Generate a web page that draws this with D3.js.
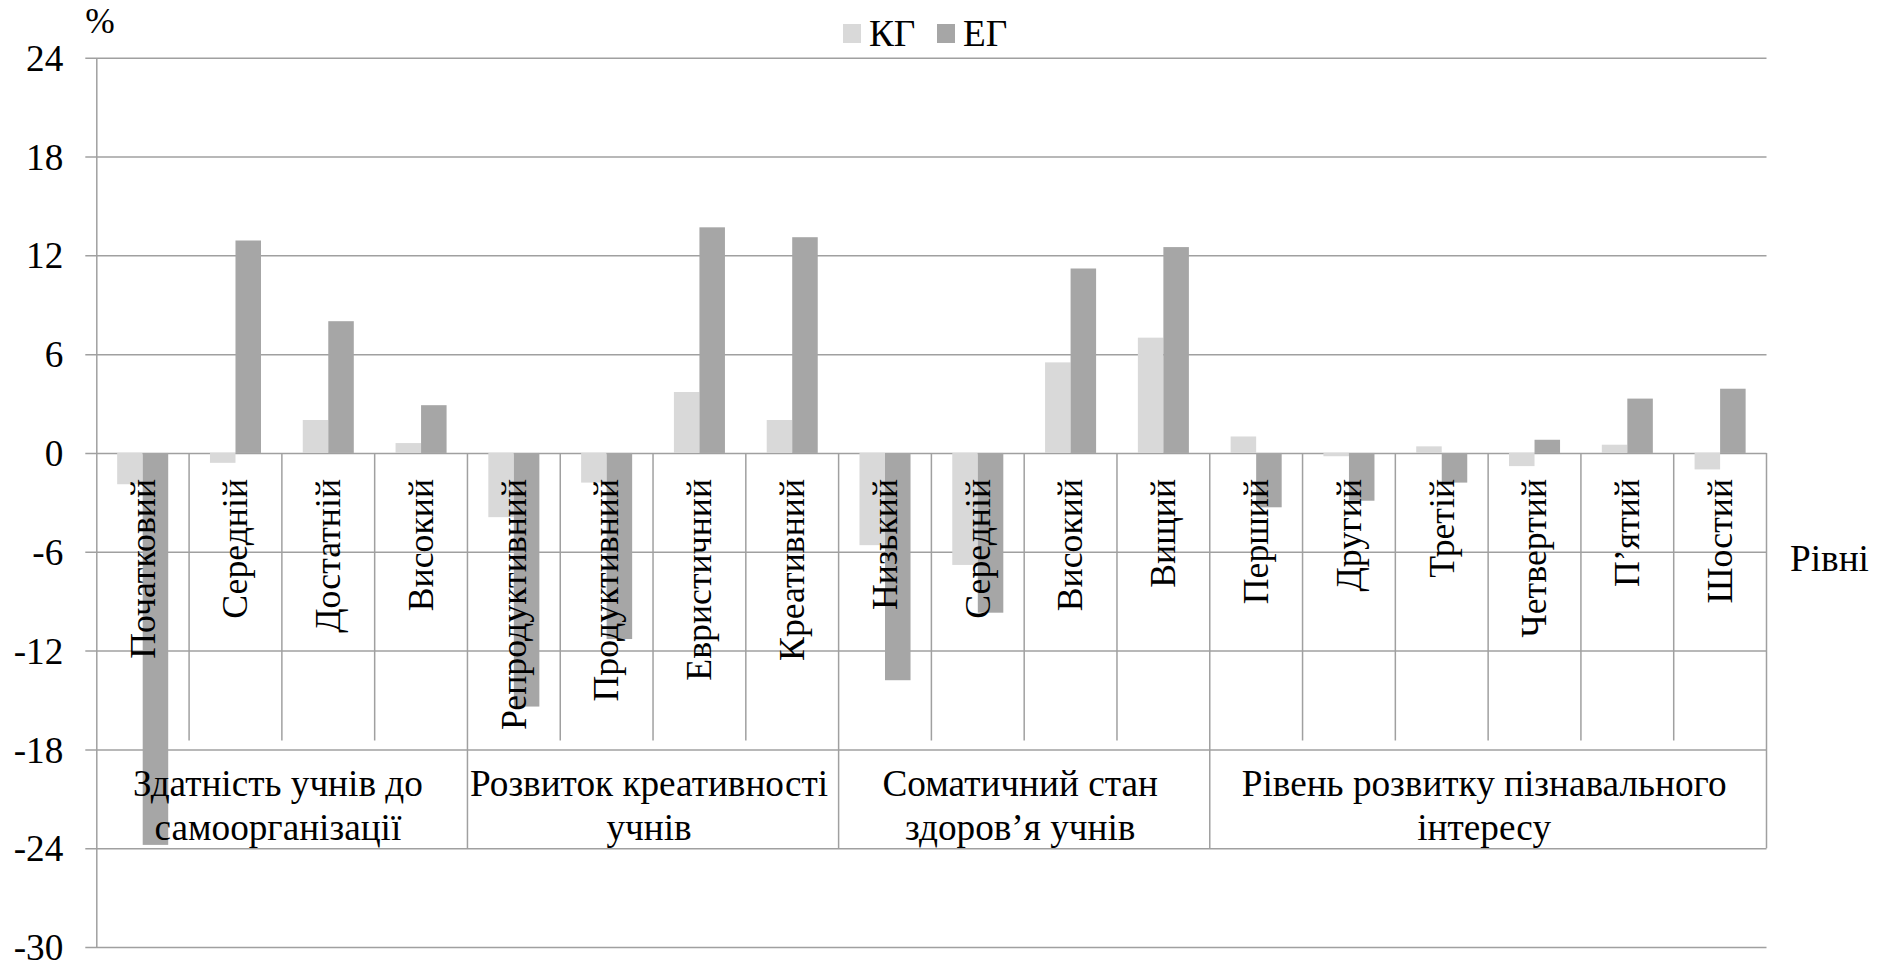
<!DOCTYPE html>
<html>
<head>
<meta charset="utf-8">
<script src="https://cdn.jsdelivr.net/npm/d3@7"></script>
<style>
  html, body { margin: 0; padding: 0; background: #fff; }
  svg { display: block; }
</style>
</head>
<body>
<svg id="chart" width="1888" height="963"></svg>
<script>
// ---- data ----
const categories = ['Початковий','Середній','Достатній','Високий',
  'Репродуктивний','Продуктивний','Евристичний','Креативний',
  'Низький','Середній','Високий','Вищий',
  'Перший','Другий','Третій','Четвертий','П’ятий','Шостий'];
const groupLabels = [
  ['Здатність учнів до','самоорганізації'],
  ['Розвиток креативності','учнів'],
  ['Соматичний стан','здоров’я учнів'],
  ['Рівень розвитку пізнавального','інтересу']
];
const groupSizes = [4, 4, 4, 6];
const seriesNames = ['КГ', 'ЕГ'];
const kgValues = [-1.9, -0.6, 2.0, 0.6, -3.9, -1.8, 3.7, 2.0, -5.6, -6.8, 5.5, 7.0, 1.0, -0.2, 0.4, -0.8, 0.5, -1.0];
const egValues = [-23.8, 12.9, 8.0, 2.9, -15.4, -11.3, 13.7, 13.1, -13.8, -9.7, 11.2, 12.5, -3.3, -2.9, -1.8, 0.8, 3.3, 3.9];
const yTicks = [24, 18, 12, 6, 0, -6, -12, -18, -24, -30];
const yUnit = '%';
const xUnit = 'Рівні';

// ---- font detection ----
const ctx = document.createElement('canvas').getContext('2d');
function fontAvailable(name) {
  const s = 'Здатність учнів до 0123 КГ';
  const res = [];
  for (const fb of ['monospace', 'sans-serif']) {
    ctx.font = `72px ${fb}`; const a = ctx.measureText(s).width;
    ctx.font = `72px "${name}", ${fb}`; const b = ctx.measureText(s).width;
    res.push(Math.abs(a - b) > 0.5);
  }
  return res[0] || res[1];
}
const candidates = ['Liberation Serif', 'Times New Roman', 'Tinos', 'Nimbus Roman', 'DejaVu Serif', 'Noto Serif'];
let family = 'serif';
for (const c of candidates) { if (fontAvailable(c)) { family = `"${c}", serif`; break; } }
ctx.font = `100px ${family}`;
const refW = ctx.measureText('Здатність учнів до').width;
const fs = Math.max(26, Math.min(40, 100 * 290 / refW));
console.log('font chosen:', family, 'size', fs);

// ---- layout ----
const colors = { 'КГ': '#d9d9d9', 'ЕГ': '#a6a6a6' };
const lineColor = '#a0a0a0';
const plotL = 96.3, plotR = 1766.5, plotT = 57.7, plotB = 947;
const svg = d3.select('#chart').attr('font-family', family);

const y = d3.scaleLinear().domain([-30, 24]).range([plotB, plotT]);
const x = d3.scaleBand().domain(d3.range(categories.length)).range([plotL, plotR]).padding(0);
const bw = x.bandwidth();
const x1 = d3.scaleBand().domain(seriesNames).range([bw * 0.225, bw * 0.775]).padding(0);

// gridlines + y tick labels via axis
const yAxis = d3.axisLeft(y).tickValues(yTicks).tickSizeInner(-(plotR - plotL)).tickSizeOuter(0).tickPadding(33)
  .tickFormat(d => String(d));
const gAxis = svg.append('g').attr('transform', `translate(${plotL},0)`).call(yAxis)
  .attr('font-family', family).attr('font-size', fs);
gAxis.select('.domain').attr('stroke', lineColor).attr('stroke-width', 1.5);
gAxis.selectAll('.tick line').attr('stroke', lineColor).attr('stroke-width', 1.5).attr('x1', -11);
gAxis.selectAll('.tick text').attr('fill', '#000').attr('dy', '0.34em');

// bars
const rows = categories.map((c, i) => ({ i, values: [
  { s: 'КГ', v: kgValues[i] }, { s: 'ЕГ', v: egValues[i] } ] }));
const gBars = svg.append('g');
gBars.selectAll('g').data(rows).join('g')
  .attr('transform', d => `translate(${x(d.i)},0)`)
  .selectAll('rect').data(d => d.values).join('rect')
  .attr('x', d => x1(d.s))
  .attr('width', x1.bandwidth())
  .attr('y', d => y(Math.max(0, d.v)))
  .attr('height', d => Math.abs(y(d.v) - y(0)))
  .attr('fill', d => colors[d.s]);

// category separators (multi-level axis)
const groupStarts = [];
let acc = 0;
groupSizes.forEach(n => { groupStarts.push(acc); acc += n; });
const gSep = svg.append('g').attr('stroke', lineColor).attr('stroke-width', 1.5);
d3.range(1, categories.length + 1).forEach(k => {
  const xx = k === categories.length ? plotR : x(k);
  const isGroup = groupStarts.includes(k) || k === categories.length;
  gSep.append('line')
    .attr('x1', xx).attr('x2', xx)
    .attr('y1', y(0))
    .attr('y2', isGroup ? y(-24) : y(-18) - 9);
});

// category labels (rotated)
svg.append('g').attr('font-size', fs * 0.96).selectAll('text').data(categories).join('text')
  .attr('transform', (d, i) => `translate(${x(i) + bw / 2},${y(0) + 26}) rotate(-90)`)
  .attr('text-anchor', 'end')
  .attr('dy', '0.33em')
  .attr('fill', '#000')
  .text(d => d);

// group labels
svg.append('g').attr('font-size', fs).selectAll('text').data(groupLabels).join('text')
  .attr('text-anchor', 'middle')
  .attr('fill', '#000')
  .each(function(d, gi) {
    const s = groupStarts[gi], n = groupSizes[gi];
    const cx = x(s) + (n * bw) / 2 - 4;
    const t = d3.select(this);
    d.forEach((line, li) => {
      t.append('tspan').attr('x', cx).attr('y', y(-18) + 47 + li * 44).text(line);
    });
  });

// unit labels
svg.append('text').attr('x', 100).attr('y', 33).attr('text-anchor', 'middle').attr('font-size', fs * 0.95).text(yUnit);
svg.append('text').attr('x', 1790).attr('y', 571).attr('font-size', fs).text(xUnit);

// legend
const legendItems = [{ s: 'КГ', x: 843 }, { s: 'ЕГ', x: 937 }];
const gLeg = svg.append('g').attr('font-size', fs);
legendItems.forEach(it => {
  gLeg.append('rect').attr('x', it.x).attr('y', 24).attr('width', 18).attr('height', 19).attr('fill', colors[it.s]);
  gLeg.append('text').attr('x', it.x + 26).attr('y', 46).text(it.s);
});
</script>
</body>
</html>
